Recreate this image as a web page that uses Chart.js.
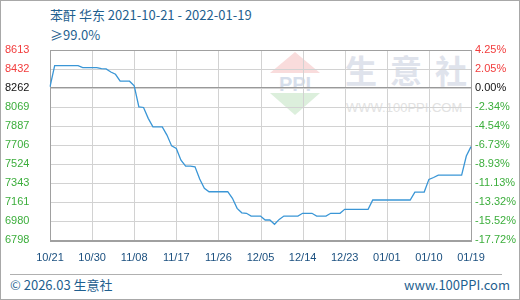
<!DOCTYPE html>
<html>
<head>
<meta charset="utf-8">
<script src="https://cdn.jsdelivr.net/npm/chart.js@4.4.0/dist/chart.umd.min.js"></script>
<style>
  body { margin: 0; background: #fff; }
  #box { position: relative; width: 520px; height: 300px; overflow: hidden; font-family: "Noto Sans CJK SC", "Noto Sans", sans-serif; }
  #box canvas { position: absolute; left: 0; top: 0; z-index: 2; }
  .txt { position: absolute; white-space: nowrap; color: #1f5f8f; }
  .wm { position: absolute; white-space: nowrap; z-index: 1; }
  #frame { position: absolute; left: 0; top: 0; width: 520px; height: 300px; box-sizing: border-box; border: 1px solid #a8a8a8; z-index: 3; pointer-events: none; }
  #rule { position: absolute; left: 10px; top: 274px; width: 492px; height: 1px; background: #b0b0b0; }
</style>
</head>
<body>
<div id="box">
  <div class="txt" style="left:50px; top:7px; font-size:13px; line-height:16px;">苯酐 华东 2021-10-21 - 2022-01-19</div>
  <div class="txt" style="left:50px; top:27px; font-size:13px; line-height:16px;">≥99.0%</div>

  <svg class="wm" style="left:268px; top:50px;" width="56" height="68" viewBox="0 0 56 68">
    <polygon points="27,2 52,23 2,23" fill="#f9dcdc"/>
    <text x="27" y="41" text-anchor="middle" font-family="Liberation Sans, sans-serif" font-size="20" font-weight="bold" fill="#d6deeb">PPI</text>
    <polygon points="2,43 52,43 27,65" fill="#dcefdc"/>
  </svg>
  <div class="wm" style="left:345px; top:50px; font-size:32px; line-height:38px; font-weight:bold; letter-spacing:13px; color:#dfe3ec;">生意社</div>
  <div class="wm" style="left:346px; top:100px; font-size:13px; line-height:15px; color:#e2e2e2; font-family:'Liberation Sans', sans-serif;">WWW.100PPI.COM</div>

  <canvas id="chart" width="520" height="300"></canvas>

  <div id="rule"></div>
  <div class="txt" style="left:10px; top:277px; font-size:13px; line-height:16px;">© 2026.03 生意社</div>
  <div class="txt" style="right:10px; top:277px; font-size:13px; line-height:16px;">www.100PPI.com</div>
  <div id="frame"></div>
</div>

<script>
// data: daily price, 2021-10-21 .. 2022-01-19
const startDate = '2021-10-21';
const prices = [
  8262, 8464, 8464, 8464, 8464, 8464, 8464, 8445, 8445, 8445,
  8445, 8435, 8432, 8403, 8381, 8315, 8315, 8315, 8270, 8070,
  8064, 7960, 7879, 7879, 7879, 7800, 7697, 7672, 7560, 7504,
  7504, 7497, 7380, 7291, 7259, 7259, 7259, 7259, 7259, 7196,
  7100, 7058, 7053, 7027, 7027, 7027, 6989, 6989, 6948, 6995,
  7027, 7027, 7027, 7027, 7053, 7053, 7053, 7027, 7027, 7027,
  7053, 7053, 7053, 7091, 7091, 7091, 7091, 7091, 7091, 7180,
  7180, 7180, 7180, 7180, 7180, 7180, 7180, 7180, 7256, 7256,
  7256, 7377, 7395, 7418, 7418, 7418, 7418, 7418, 7418, 7600,
  7690
];
const baseValue = 8262;
const yMin = 6798;
const yMax = 8613;
const leftTickLabels = ['8613', '8432', '8262', '8069', '7887', '7706', '7524', '7343', '7161', '6980', '6798'];
const rightTickLabels = ['4.25%', '2.05%', '0.00%', '-2.34%', '-4.54%', '-6.73%', '-8.93%', '-11.13%', '-13.32%', '-15.52%', '-17.72%'];
const xTickLabels = ['10/21', '10/30', '11/08', '11/17', '11/26', '12/05', '12/14', '12/23', '01/01', '01/10', '01/19'];
const xTickEvery = 9;

// one category per day
const days = [];
const d0 = new Date(startDate + 'T00:00:00Z');
for (let i = 0; i < prices.length; i++) {
    const d = new Date(d0.getTime() + i * 86400000);
    days.push(String(d.getUTCMonth() + 1).padStart(2, '0') + '/' + String(d.getUTCDate()).padStart(2, '0'));
}

const RED = '#f23c3c', GREEN = '#3cae3c', BLACK = '#111';
const tickColor = (ctx) => {
    const i = 10 - ctx.index;
    return i < 2 ? RED : (i === 2 ? BLACK : GREEN);
};
const tickFont = { family: 'Liberation Sans', size: 11 };

// grid at every y tick and every 9th day, frame, solid line at the base price
const framePlugin = {
    id: 'plotframe',
    beforeDatasetsDraw(chart) {
        const { ctx, chartArea: a, scales } = chart;
        const L = Math.round(a.left), R = Math.round(a.right), T = Math.round(a.top), B = Math.round(a.bottom);
        ctx.save();
        ctx.fillStyle = '#d2d2d2';
        scales.y.getTicks().forEach((t) => {
            const y = Math.round(scales.y.getPixelForValue(t.value));
            ctx.fillRect(L, y, R - L, 1);
        });
        for (let i = xTickEvery; i < prices.length - 1; i += xTickEvery) {
            const x = Math.round(scales.x.getPixelForValue(i));
            ctx.fillRect(x, T, 1, B - T);
        }
        ctx.fillStyle = '#999';
        ctx.fillRect(L, Math.round(scales.y.getPixelForValue(baseValue)), R - L, 1);
        ctx.fillStyle = '#a0a0a0';
        ctx.fillRect(L, T, R - L + 1, 1);
        ctx.fillRect(L, B, R - L + 1, 2);
        ctx.fillRect(L, T, 1, B - T);
        ctx.fillRect(R, T, 1, B - T);
        ctx.restore();
    }
};

new Chart(document.getElementById('chart'), {
    type: 'line',
    data: {
        labels: days,
        datasets: [{
            data: prices,
            borderColor: '#3a96d6',
            borderWidth: 1.3,
            pointRadius: 0,
            tension: 0,
            fill: false
        }]
    },
    options: {
        responsive: false,
        animation: false,
        events: [],
        layout: { padding: { left: 5, right: 0, top: 50, bottom: 30 } },
        plugins: { legend: { display: false }, tooltip: { enabled: false } },
        scales: {
            x: {
                type: 'category',
                offset: false,
                border: { display: false },
                grid: { display: false, drawTicks: false },
                ticks: {
                    autoSkip: false,
                    maxRotation: 0,
                    padding: 11,
                    color: '#1a4f7f',
                    font: tickFont,
                    callback: (value, index) => index % xTickEvery === 0 ? xTickLabels[index / xTickEvery] : ''
                },
                afterFit: (s) => { s.height = 30; }
            },
            y: {
                position: 'left',
                min: yMin,
                max: yMax,
                border: { display: false },
                grid: { display: false, drawTicks: false },
                ticks: {
                    stepSize: (yMax - yMin) / 10,
                    crossAlign: 'far',
                    color: tickColor,
                    font: tickFont,
                    callback: (v, i, t) => leftTickLabels[t.length - 1 - i]
                },
                afterFit: (s) => { s.width = 45; }
            },
            y2: {
                position: 'right',
                min: yMin,
                max: yMax,
                border: { display: false },
                grid: { display: false, drawTicks: false },
                ticks: {
                    stepSize: (yMax - yMin) / 10,
                    padding: 4,
                    color: tickColor,
                    font: tickFont,
                    callback: (v, i, t) => rightTickLabels[t.length - 1 - i]
                },
                afterFit: (s) => { s.width = 49; }
            }
        }
    },
    plugins: [framePlugin]
});
</script>
</body>
</html>
